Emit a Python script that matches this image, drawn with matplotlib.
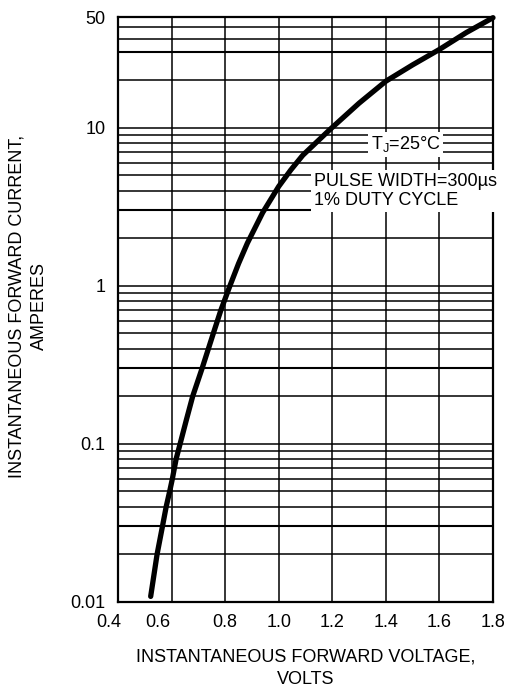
import numpy as np
import matplotlib
matplotlib.use('Agg')
from matplotlib import pyplot as plt
from matplotlib import transforms

plt.rcParams['font.family'] = ['Liberation Sans', 'DejaVu Sans']
plt.rcParams['mathtext.default'] = 'regular'

# curve
volts = [0.522, 0.546, 0.566, 0.580, 0.593, 0.603, 0.617, 0.632, 0.655, 0.679,
         0.714, 0.756, 0.784, 0.818, 0.85, 0.883, 0.94, 1.00, 1.045, 1.09, 1.19,
         1.30, 1.40, 1.50, 1.60, 1.70, 1.80]
amps = [0.0108, 0.02, 0.03, 0.04, 0.05, 0.06, 0.08, 0.10, 0.141, 0.20,
        0.30, 0.50, 0.70, 1.0, 1.38, 1.86, 2.9, 4.25, 5.4, 6.7, 9.7,
        14.3, 19.7, 25.0, 31.3, 40.0, 49.7]

x_ticks = [0.4, 0.6, 0.8, 1.0, 1.2, 1.4, 1.6, 1.8]
x_labels = ['0.4', '0.6', '0.8', '1.0', '1.2', '1.4', '1.6', '1.8']
y_ticks = [0.01, 0.1, 1, 10, 50]
y_labels = ['0.01', '0.1', '1', '10', '50']
# horizontal rules as drawn (top decade is irregular on the original)
y_rules = [m * d for d in (0.01, 0.1, 1) for m in range(2, 10)] + [0.1, 1, 10, 20, 30, 36.7, 43.3]

W, H = 509, 687
fig = plt.figure(figsize=(W / 100, H / 100), dpi=100)
ax = fig.add_axes([118 / W, 1 - 601.7 / H, (493 - 118) / W, (601.7 - 17.3) / H])

ax.set_yscale('log')
ax.set_xlim(0.4, 1.8)
ax.set_ylim(0.01, 50)

for v in x_ticks[1:-1]:
    ax.axvline(v, color='black', lw=1.1, zorder=1)
for r in y_rules:
    mant = r / 10 ** np.floor(np.log10(r))
    lw = 1.5 if abs(mant - 3) < 0.01 else 1.1
    ax.axhline(r, color='black', lw=lw, zorder=1)

ax.plot(volts, amps, color='black', lw=3.8, solid_capstyle='round',
        solid_joinstyle='round', zorder=4, clip_on=False)

ax.set_xticks(x_ticks)
ax.set_xticklabels(x_labels)
ax.set_yticks(y_ticks)
ax.set_yticklabels(y_labels)
ax.yaxis.set_minor_locator(matplotlib.ticker.NullLocator())
ax.tick_params(length=0, labelsize=13, pad=9)

# the original has the first two x labels shifted left
for lab, dx in zip(ax.get_xticklabels()[:2], (-9, -14)):
    lab.set_transform(lab.get_transform() + transforms.ScaledTranslation(dx / 100, 0, fig.dpi_scale_trans))

for sp in ax.spines.values():
    sp.set_linewidth(1.6)

box = dict(facecolor='white', edgecolor='none', pad=2)
ax.text(1.474, 7.85, 'T$_J$=25°C', fontsize=13, ha='center', va='center',
        bbox=box, zorder=3)
ax.text(1.13, 3.97, 'PULSE WIDTH=300µs\n1% DUTY CYCLE', fontsize=13,
        ha='left', va='center', linespacing=1.2, bbox=box, zorder=3)

fig.text(306 / W, 1 - 668 / H, 'INSTANTANEOUS FORWARD VOLTAGE,\nVOLTS',
         ha='center', va='center', ma='center', fontsize=13, linespacing=1.4)
fig.text(28.5 / W, 1 - 306 / H, 'INSTANTANEOUS FORWARD CURRENT,\nAMPERES',
         ha='center', va='center', ma='center', fontsize=13, rotation=90,
         linespacing=1.4)

fig.savefig('out.png', dpi=100)
